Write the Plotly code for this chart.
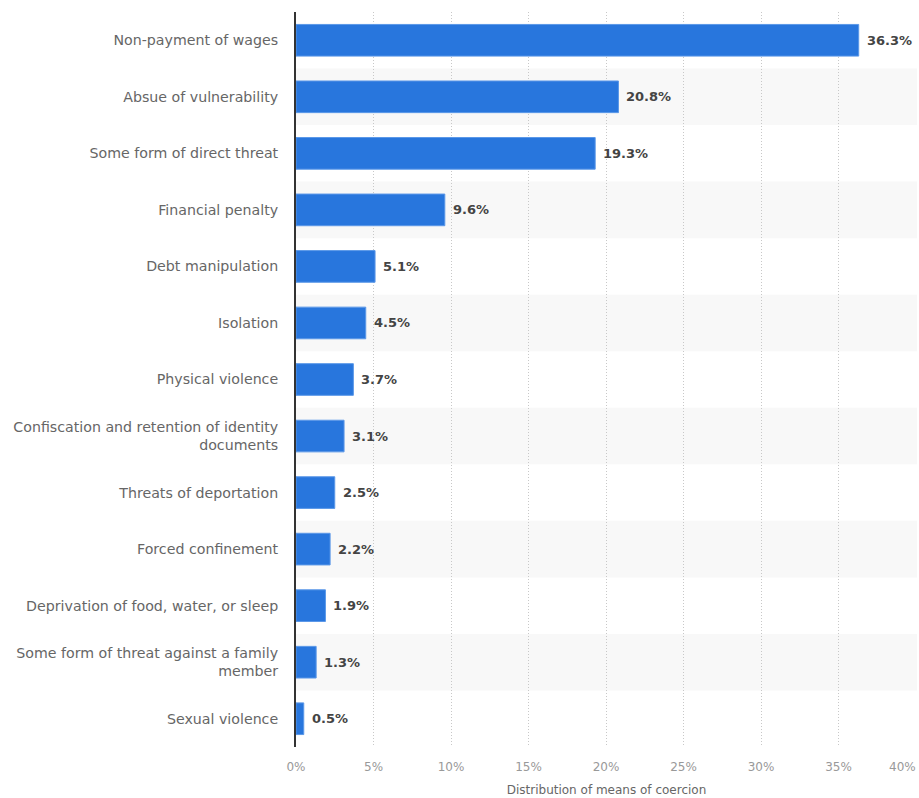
import plotly.graph_objects as go

categories = [
    "Non-payment of wages",
    "Absue of vulnerability",
    "Some form of direct threat",
    "Financial penalty",
    "Debt manipulation",
    "Isolation",
    "Physical violence",
    "Confiscation and retention of identity<br>documents",
    "Threats of deportation",
    "Forced confinement",
    "Deprivation of food, water, or sleep",
    "Some form of threat against a family<br>member",
    "Sexual violence",
]
values = [36.3, 20.8, 19.3, 9.6, 5.1, 4.5, 3.7, 3.1, 2.5, 2.2, 1.9, 1.3, 0.5]
x_ticks = [0, 5, 10, 15, 20, 25, 30, 35, 40]
x_tick_labels = [f"{t}%" for t in x_ticks]
x_title = "Distribution of means of coercion"

FONT = "DejaVu Sans, sans-serif"

fig = go.Figure()
fig.add_trace(go.Bar(
    x=values, y=categories, orientation="h",
    marker=dict(color="#2876dd", line=dict(color="#5b98e8", width=1)),
    width=0.56,
    hoverinfo="skip",
))

# alternating bands
shapes = []
for i, c in enumerate(categories):
    if i % 2 == 1:
        shapes.append(dict(type="rect", xref="paper", yref="y",
                           x0=0, x1=1, y0=i - 0.5, y1=i + 0.5,
                           fillcolor="#f8f8f8", line=dict(width=0), layer="below"))

annotations = []
for c, v in zip(categories, values):
    annotations.append(dict(x=v, y=c, xref="x", yref="y", text=f"<b>{v:.1f}%</b>",
                            showarrow=False, xanchor="left", xshift=6,
                            font=dict(family=FONT, size=13, color="#444444")))

# last tick label sits flush with the right edge, as in the reference
axis_ticktext = x_tick_labels[:-1] + [""]
annotations.append(dict(x=x_ticks[-1], y=0, xref="x", yref="paper",
                        text=x_tick_labels[-1], showarrow=False,
                        xanchor="right", yanchor="top", yshift=-11, xshift=2,
                        font=dict(family=FONT, size=12, color="#999999")))

fig.update_layout(
    width=919, height=798,
    margin=dict(l=296, r=2, t=12, b=51, autoexpand=False),
    paper_bgcolor="white", plot_bgcolor="rgba(0,0,0,0)",
    showlegend=False,
    shapes=shapes,
    annotations=annotations,
    bargap=0.44,
    font=dict(family=FONT),
)
fig.update_xaxes(
    range=[0, 40.06], tickvals=x_ticks, ticktext=axis_ticktext,
    showgrid=True, gridcolor="#c8c8c8", griddash="1px,2px", gridwidth=1,
    zeroline=False, showline=False, automargin=False,
    tickfont=dict(family=FONT, size=12, color="#999999"),
    title=dict(text=x_title, font=dict(family=FONT, size=12, color="#666666"), standoff=12),
    ticks="", ticklabelstandoff=11,
)
fig.update_yaxes(
    categoryorder="array", categoryarray=categories, autorange="reversed",
    showgrid=False, zeroline=False, automargin=False,
    showline=True, linecolor="#333333", linewidth=2,
    tickfont=dict(family=FONT, size=14.2, color="#666666"),
    ticks="", ticklabelstandoff=13,
)

fig.write_html("out.html")
